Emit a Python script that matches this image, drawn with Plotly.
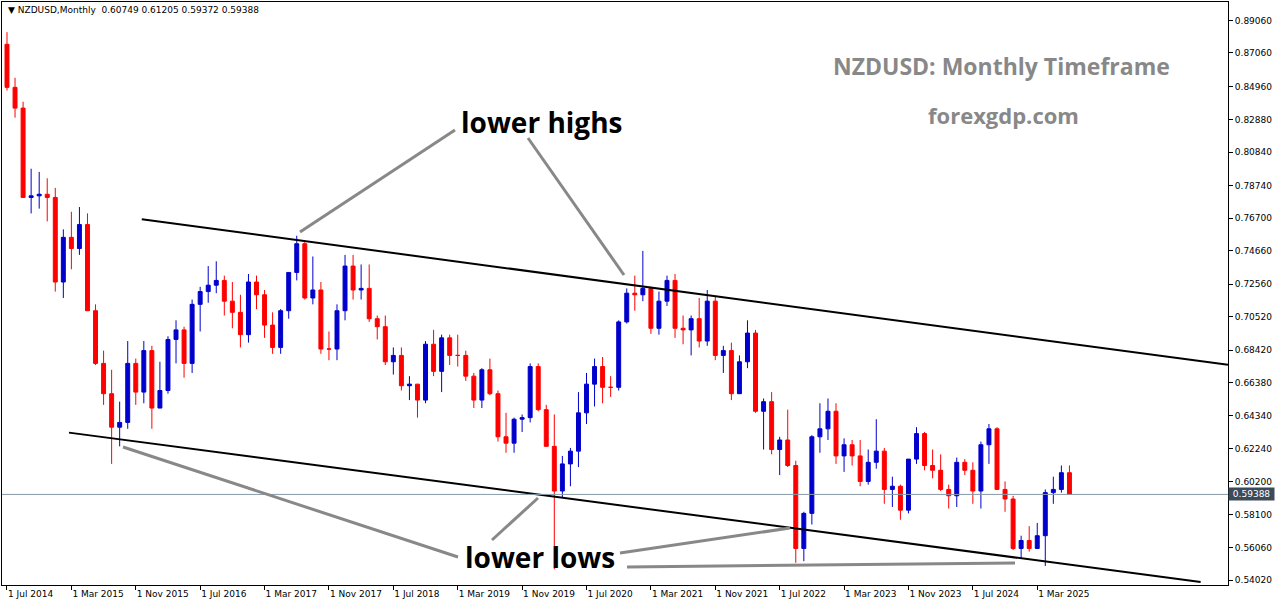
import plotly.graph_objects as go

first_open = 0.8760
closes = [0.8490,0.8360,0.7800,0.7810,0.7820,0.7800,
 0.7270,0.7550,0.7480,0.7630,0.7090,0.6760,0.6570,0.6360,0.6390,0.6760,0.6580,0.6840,
 0.6480,0.6590,0.6910,0.6970,0.6760,0.7130,0.7210,0.7250,0.7280,0.7150,0.7080,0.6940,
 0.7270,0.7190,0.7000,0.6860,0.7090,0.7330,0.7510,0.7170,0.7220,0.6850,0.6850,0.7090,
 0.7370,0.7220,0.7230,0.7040,0.6990,0.6770,0.6810,0.6620,0.6630,0.6530,0.6880,0.6710,
 0.6920,0.6810,0.6810,0.6680,0.6530,0.6720,0.6570,0.6300,0.6260,0.6410,0.6420,0.6740,
 0.6470,0.6240,0.5960,0.6130,0.6210,0.6450,0.6630,0.6740,0.6610,0.6610,0.7020,0.7200,
 0.7190,0.7230,0.6980,0.7150,0.7280,0.6980,0.6970,0.7040,0.6900,0.7150,0.6810,0.6840,
 0.6570,0.6770,0.6950,0.6460,0.6520,0.6220,0.6280,0.6120,0.5600,0.5820,0.6300,0.6350,
 0.6460,0.6180,0.6250,0.6180,0.6020,0.6140,0.6210,0.5970,0.5990,0.5840,0.6160,0.6320,
 0.6120,0.6090,0.5970,0.5930,0.6140,0.6090,0.5960,0.6250,0.6350,0.5970,0.5910,0.5600,
 0.5650,0.5600,0.5680,0.5950,0.5970,0.6075,0.59388]
highs = [0.8836,0.8550,0.8400,0.7980,0.7960,0.7920,
 0.7860,0.7600,0.7710,0.7740,0.7700,0.7130,0.6840,0.6720,0.6520,0.6900,0.6790,0.6900,
 0.6870,0.6770,0.6930,0.7030,0.6990,0.7160,0.7240,0.7370,0.7400,0.7310,0.7270,0.7190,
 0.7320,0.7310,0.7220,0.7080,0.7100,0.7330,0.7560,0.7520,0.7430,0.7270,0.6960,0.7130,
 0.7440,0.7440,0.7380,0.7380,0.7060,0.7060,0.6860,0.6860,0.6680,0.6630,0.6900,0.6970,
 0.6940,0.6940,0.6940,0.6840,0.6700,0.6730,0.6790,0.6590,0.6450,0.6420,0.6440,0.6760,
 0.6760,0.6500,0.6440,0.6180,0.6230,0.6580,0.6700,0.6790,0.6800,0.6680,0.7030,0.7230,
 0.7310,0.7465,0.7240,0.7210,0.7310,0.7320,0.7060,0.7060,0.7170,0.7220,0.7180,0.6870,
 0.6890,0.6810,0.7030,0.6970,0.6540,0.6580,0.6300,0.6470,0.6150,0.5830,0.6310,0.6510,
 0.6540,0.6510,0.6290,0.6280,0.6280,0.6220,0.6410,0.6230,0.6050,0.6000,0.6160,0.6360,
 0.6330,0.6220,0.6190,0.6000,0.6170,0.6160,0.6140,0.6270,0.6380,0.6360,0.6020,0.5930,
 0.5680,0.5740,0.5760,0.5970,0.6050,0.6120,0.61205]
lows = [0.8470,0.8300,0.7800,0.7700,0.7730,0.7650,
 0.7210,0.7170,0.7350,0.7440,0.7090,0.6750,0.6500,0.6130,0.6240,0.6350,0.6500,0.6510,
 0.6350,0.6520,0.6570,0.6760,0.6670,0.6700,0.6960,0.7140,0.7200,0.7060,0.6980,0.6860,
 0.6890,0.7100,0.6920,0.6820,0.6820,0.7040,0.7280,0.7160,0.7130,0.6820,0.6780,0.6780,
 0.7030,0.7160,0.7160,0.7020,0.6910,0.6750,0.6690,0.6590,0.6530,0.6420,0.6510,0.6680,
 0.6580,0.6750,0.6740,0.6650,0.6480,0.6480,0.6560,0.6270,0.6200,0.6200,0.6330,0.6390,
 0.6460,0.6240,0.5470,0.5920,0.5990,0.6110,0.6380,0.6490,0.6510,0.6550,0.6590,0.7010,
 0.7090,0.7150,0.6945,0.6940,0.7120,0.6920,0.6880,0.6810,0.6860,0.6870,0.6780,0.6700,
 0.6530,0.6590,0.6730,0.6450,0.6220,0.6190,0.6060,0.6110,0.5510,0.5520,0.5750,0.6200,
 0.6280,0.6130,0.6080,0.6120,0.5990,0.6000,0.6100,0.5880,0.5860,0.5780,0.5820,0.6130,
 0.6090,0.6040,0.5960,0.5850,0.5860,0.6060,0.5880,0.5850,0.6130,0.5970,0.5830,0.5590,
 0.5540,0.5580,0.5620,0.5490,0.5880,0.5950,0.59372]
opens = [first_open] + closes[:-1]
opens[-1] = 0.60749
idx = list(range(len(closes)))

tick_idx = list(range(0, 129, 8))
tick_text = ["1 Jul 2014","1 Mar 2015","1 Nov 2015","1 Jul 2016","1 Mar 2017","1 Nov 2017",
             "1 Jul 2018","1 Mar 2019","1 Nov 2019","1 Jul 2020","1 Mar 2021","1 Nov 2021",
             "1 Jul 2022","1 Mar 2023","1 Nov 2023","1 Jul 2024","1 Mar 2025"]
y_ticks = [0.89060,0.87060,0.84960,0.82880,0.80840,0.78740,0.76700,0.74660,0.72560,
           0.70520,0.68420,0.66380,0.64340,0.62240,0.60200,0.58100,0.56060,0.54020]
last_price = 0.59388
upper_line = [(16.75, 0.7663), (151.7, 0.6751)]
lower_line = [(7.7, 0.6326), (148.3, 0.5390)]

fig = go.Figure(go.Candlestick(
    x=idx, open=opens, high=highs, low=lows, close=closes,
    increasing=dict(line=dict(color="#0000CC", width=1), fillcolor="#0000CC"),
    decreasing=dict(line=dict(color="#FF0000", width=1), fillcolor="#FF0000"),
    whiskerwidth=0, hoverinfo="skip"))

shapes = []
for ln in (upper_line, lower_line):
    shapes.append(dict(type="line", xref="x", yref="y", x0=ln[0][0], y0=ln[0][1],
                       x1=ln[1][0], y1=ln[1][1], line=dict(color="black", width=2)))
shapes.append(dict(type="line", xref="paper", yref="y", x0=0, x1=1, y0=last_price, y1=last_price,
                   line=dict(color="#8899AA", width=1)))

W, H = 1276, 604
L, R, T, B = 2, 1228, 2, 585
def px(x, y):
    return (x - L) / (R - L), 1 - (y - T) / (B - T)
gray = [((300,232),(455,130)), ((528,138),(624,275)), ((123,447),(458,557)),
        ((492,540),(538,498)), ((620,553),(790,528)), ((627,567),(1015,563))]
for a, b in gray:
    x0, y0 = px(*a); x1, y1 = px(*b)
    shapes.append(dict(type="line", xref="paper", yref="paper", x0=x0, y0=y0, x1=x1, y1=y1,
                       line=dict(color="#888888", width=3)))

ann = []
def text(x, y, s, size, color, bold=True, anchor="center"):
    xp, yp = px(x, y)
    ann.append(dict(xref="paper", yref="paper", x=xp, y=yp, text=("<b>%s</b>" % s) if bold else s,
                    showarrow=False, xanchor=anchor, yanchor="middle",
                    font=dict(size=size, color=color, family="Open Sans, DejaVu Sans")))
text(1001, 66, "NZDUSD: Monthly Timeframe", 23, "#888888")
text(1003, 115, "forexgdp.com", 22, "#888888")
text(541, 122, "lower highs", 28, "black")
text(540, 557, "lower lows", 28, "black")
xp, yp = px(6, 10)
ann.append(dict(xref="paper", yref="paper", x=xp, y=yp, xanchor="left", yanchor="middle", showarrow=False,
                text="▼ NZDUSD,Monthly  0.60749 0.61205 0.59372 0.59388",
                font=dict(size=9, color="black", family="DejaVu Sans")))
ann.append(dict(xref="paper", yref="y", x=1.0, y=last_price, xanchor="left", yanchor="middle",
                showarrow=False, text=" 0.59388 ", bgcolor="#3C4A5A",
                font=dict(size=9, color="white", family="DejaVu Sans")))

fig.update_layout(
    width=W, height=H, margin=dict(l=L, r=W - R, t=T, b=H - B, autoexpand=False),
    paper_bgcolor="white", plot_bgcolor="white", showlegend=False,
    shapes=shapes, annotations=ann,
    xaxis=dict(range=[-0.62, 151.7], tickvals=tick_idx, ticktext=tick_text, showgrid=False,
               rangeslider=dict(visible=False), ticks="outside", ticklen=4, tickcolor="black",
               ticklabelposition="outside right",
               showline=True, linecolor="black", mirror=True, zeroline=False, automargin=False,
               tickfont=dict(size=9, family="DejaVu Sans", color="black")),
    yaxis=dict(range=[0.5371, 0.9025], side="right", tickvals=y_ticks,
               ticktext=["%.5f" % v for v in y_ticks], showgrid=False,
               ticks="outside", ticklen=4, tickcolor="black", automargin=False,
               showline=True, linecolor="black", mirror=True, zeroline=False,
               tickfont=dict(size=9, family="DejaVu Sans", color="black")),
)
fig.write_html("out.html", config={"displayModeBar": False},
               post_script="document.body.style.margin='0';document.body.style.overflow='hidden';")
